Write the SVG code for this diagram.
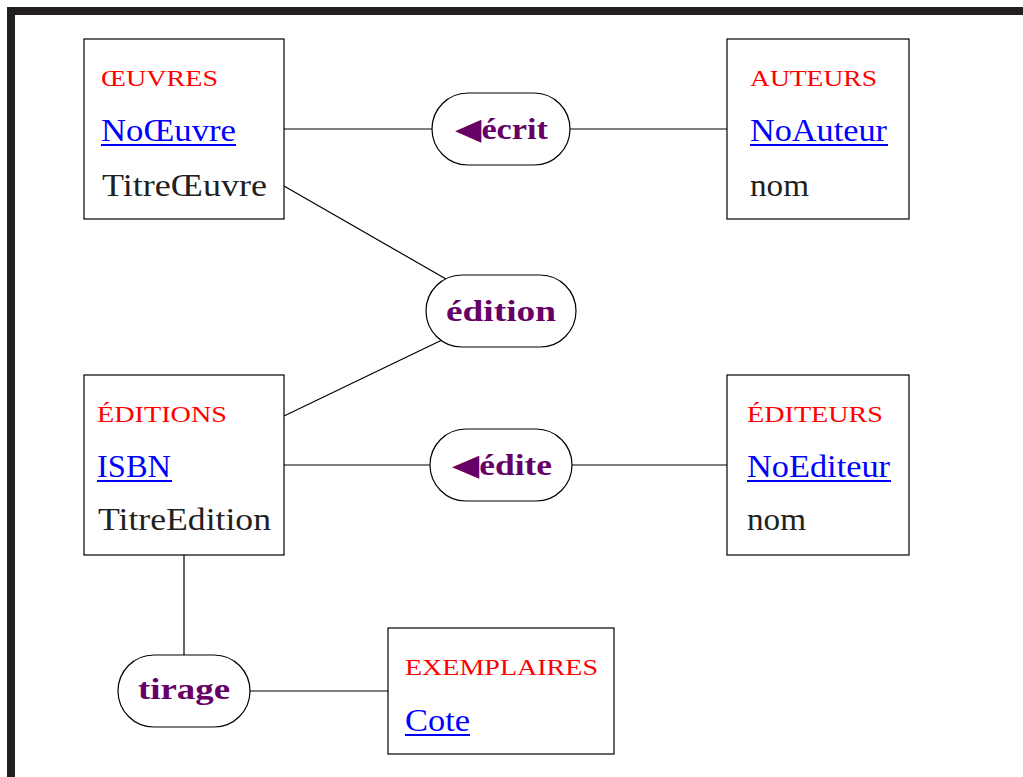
<svg xmlns="http://www.w3.org/2000/svg" width="1023" height="777" viewBox="0 0 1023 777">
<style>
.frame{fill:none;stroke:#231f20;stroke-width:8}
.ent{fill:#fff;stroke:#000;stroke-width:1.2}
.rel{fill:#fff;stroke:#000;stroke-width:1.2}
.hd{font-family:"Liberation Serif",serif;font-size:23px;fill:#ff0000}
.key{font-family:"Liberation Serif",serif;font-size:32px;fill:#0000ff}
.att{font-family:"Liberation Serif",serif;font-size:32px;fill:#231f20}
.ul{stroke:#0000ff;stroke-width:2}
.rl{font-family:"Liberation Serif","DejaVu Serif",serif;font-size:30px;font-weight:bold;fill:#660066;text-anchor:middle}
.cn{stroke:#000;stroke-width:1.2;fill:none}
</style>
<rect x="0" y="0" width="1023" height="777" fill="#fff"/>
<rect class="frame" x="11" y="11" width="1030" height="800"/>
<g id="connectors">
<line class="cn" x1="284" y1="129" x2="432" y2="129"/>
<line class="cn" x1="570" y1="129" x2="727" y2="129"/>
<line class="cn" x1="284" y1="186" x2="446" y2="279"/>
<line class="cn" x1="284" y1="416" x2="442" y2="340"/>
<line class="cn" x1="284" y1="465" x2="430" y2="465"/>
<line class="cn" x1="572" y1="465" x2="727" y2="465"/>
<line class="cn" x1="184" y1="555" x2="184" y2="655"/>
<line class="cn" x1="250" y1="691" x2="388" y2="691"/>
</g>
<g id="oeuvres">
<rect class="ent" x="84" y="39" width="200" height="180"/>
<text class="hd" x="101" y="86" textLength="117" lengthAdjust="spacingAndGlyphs">ŒUVRES</text>
<text class="key" x="101" y="141" textLength="135" lengthAdjust="spacingAndGlyphs">NoŒuvre</text>
<line class="ul" x1="101" y1="145" x2="236" y2="145"/>
<text class="att" x="102" y="196" textLength="165" lengthAdjust="spacingAndGlyphs">TitreŒuvre</text>
</g>
<g id="auteurs">
<rect class="ent" x="727" y="39" width="182" height="180"/>
<text class="hd" x="750" y="86" textLength="127" lengthAdjust="spacingAndGlyphs">AUTEURS</text>
<text class="key" x="750" y="141" textLength="137" lengthAdjust="spacingAndGlyphs">NoAuteur</text>
<line class="ul" x1="750" y1="145" x2="888" y2="145"/>
<text class="att" x="750" y="196" textLength="59" lengthAdjust="spacingAndGlyphs">nom</text>
</g>
<g id="editions">
<rect class="ent" x="84" y="375" width="200" height="180"/>
<text class="hd" x="97" y="422" textLength="130" lengthAdjust="spacingAndGlyphs">ÉDITIONS</text>
<text class="key" x="97" y="477" textLength="74" lengthAdjust="spacingAndGlyphs">ISBN</text>
<line class="ul" x1="97" y1="481" x2="172" y2="481"/>
<text class="att" x="98" y="530" textLength="173" lengthAdjust="spacingAndGlyphs">TitreEdition</text>
</g>
<g id="editeurs">
<rect class="ent" x="727" y="375" width="182" height="180"/>
<text class="hd" x="747" y="422" textLength="136" lengthAdjust="spacingAndGlyphs">ÉDITEURS</text>
<text class="key" x="747" y="477" textLength="143" lengthAdjust="spacingAndGlyphs">NoEditeur</text>
<line class="ul" x1="747" y1="481" x2="891" y2="481"/>
<text class="att" x="747" y="530" textLength="59" lengthAdjust="spacingAndGlyphs">nom</text>
</g>
<g id="exemplaires">
<rect class="ent" x="388" y="628" width="226" height="126"/>
<text class="hd" x="405" y="675" textLength="193" lengthAdjust="spacingAndGlyphs">EXEMPLAIRES</text>
<text class="key" x="405" y="731" textLength="65" lengthAdjust="spacingAndGlyphs">Cote</text>
<line class="ul" x1="405" y1="735" x2="470" y2="735"/>
</g>
<g id="ecrit">
<rect class="rel" x="432" y="93" width="138" height="72" rx="36" ry="36"/>
<text class="rl" x="501.5" y="139" textLength="93" lengthAdjust="spacingAndGlyphs">◀écrit</text>
</g>
<g id="edition">
<rect class="rel" x="426" y="275" width="150" height="72" rx="36" ry="36"/>
<text class="rl" x="501" y="321" textLength="110" lengthAdjust="spacingAndGlyphs">édition</text>
</g>
<g id="edite">
<rect class="rel" x="430" y="429" width="142" height="72" rx="36" ry="36"/>
<text class="rl" x="502" y="475" textLength="100" lengthAdjust="spacingAndGlyphs">◀édite</text>
</g>
<g id="tirage">
<rect class="rel" x="118" y="655" width="132" height="72" rx="36" ry="36"/>
<text class="rl" x="184" y="699" textLength="92" lengthAdjust="spacingAndGlyphs">tirage</text>
</g>
</svg>
